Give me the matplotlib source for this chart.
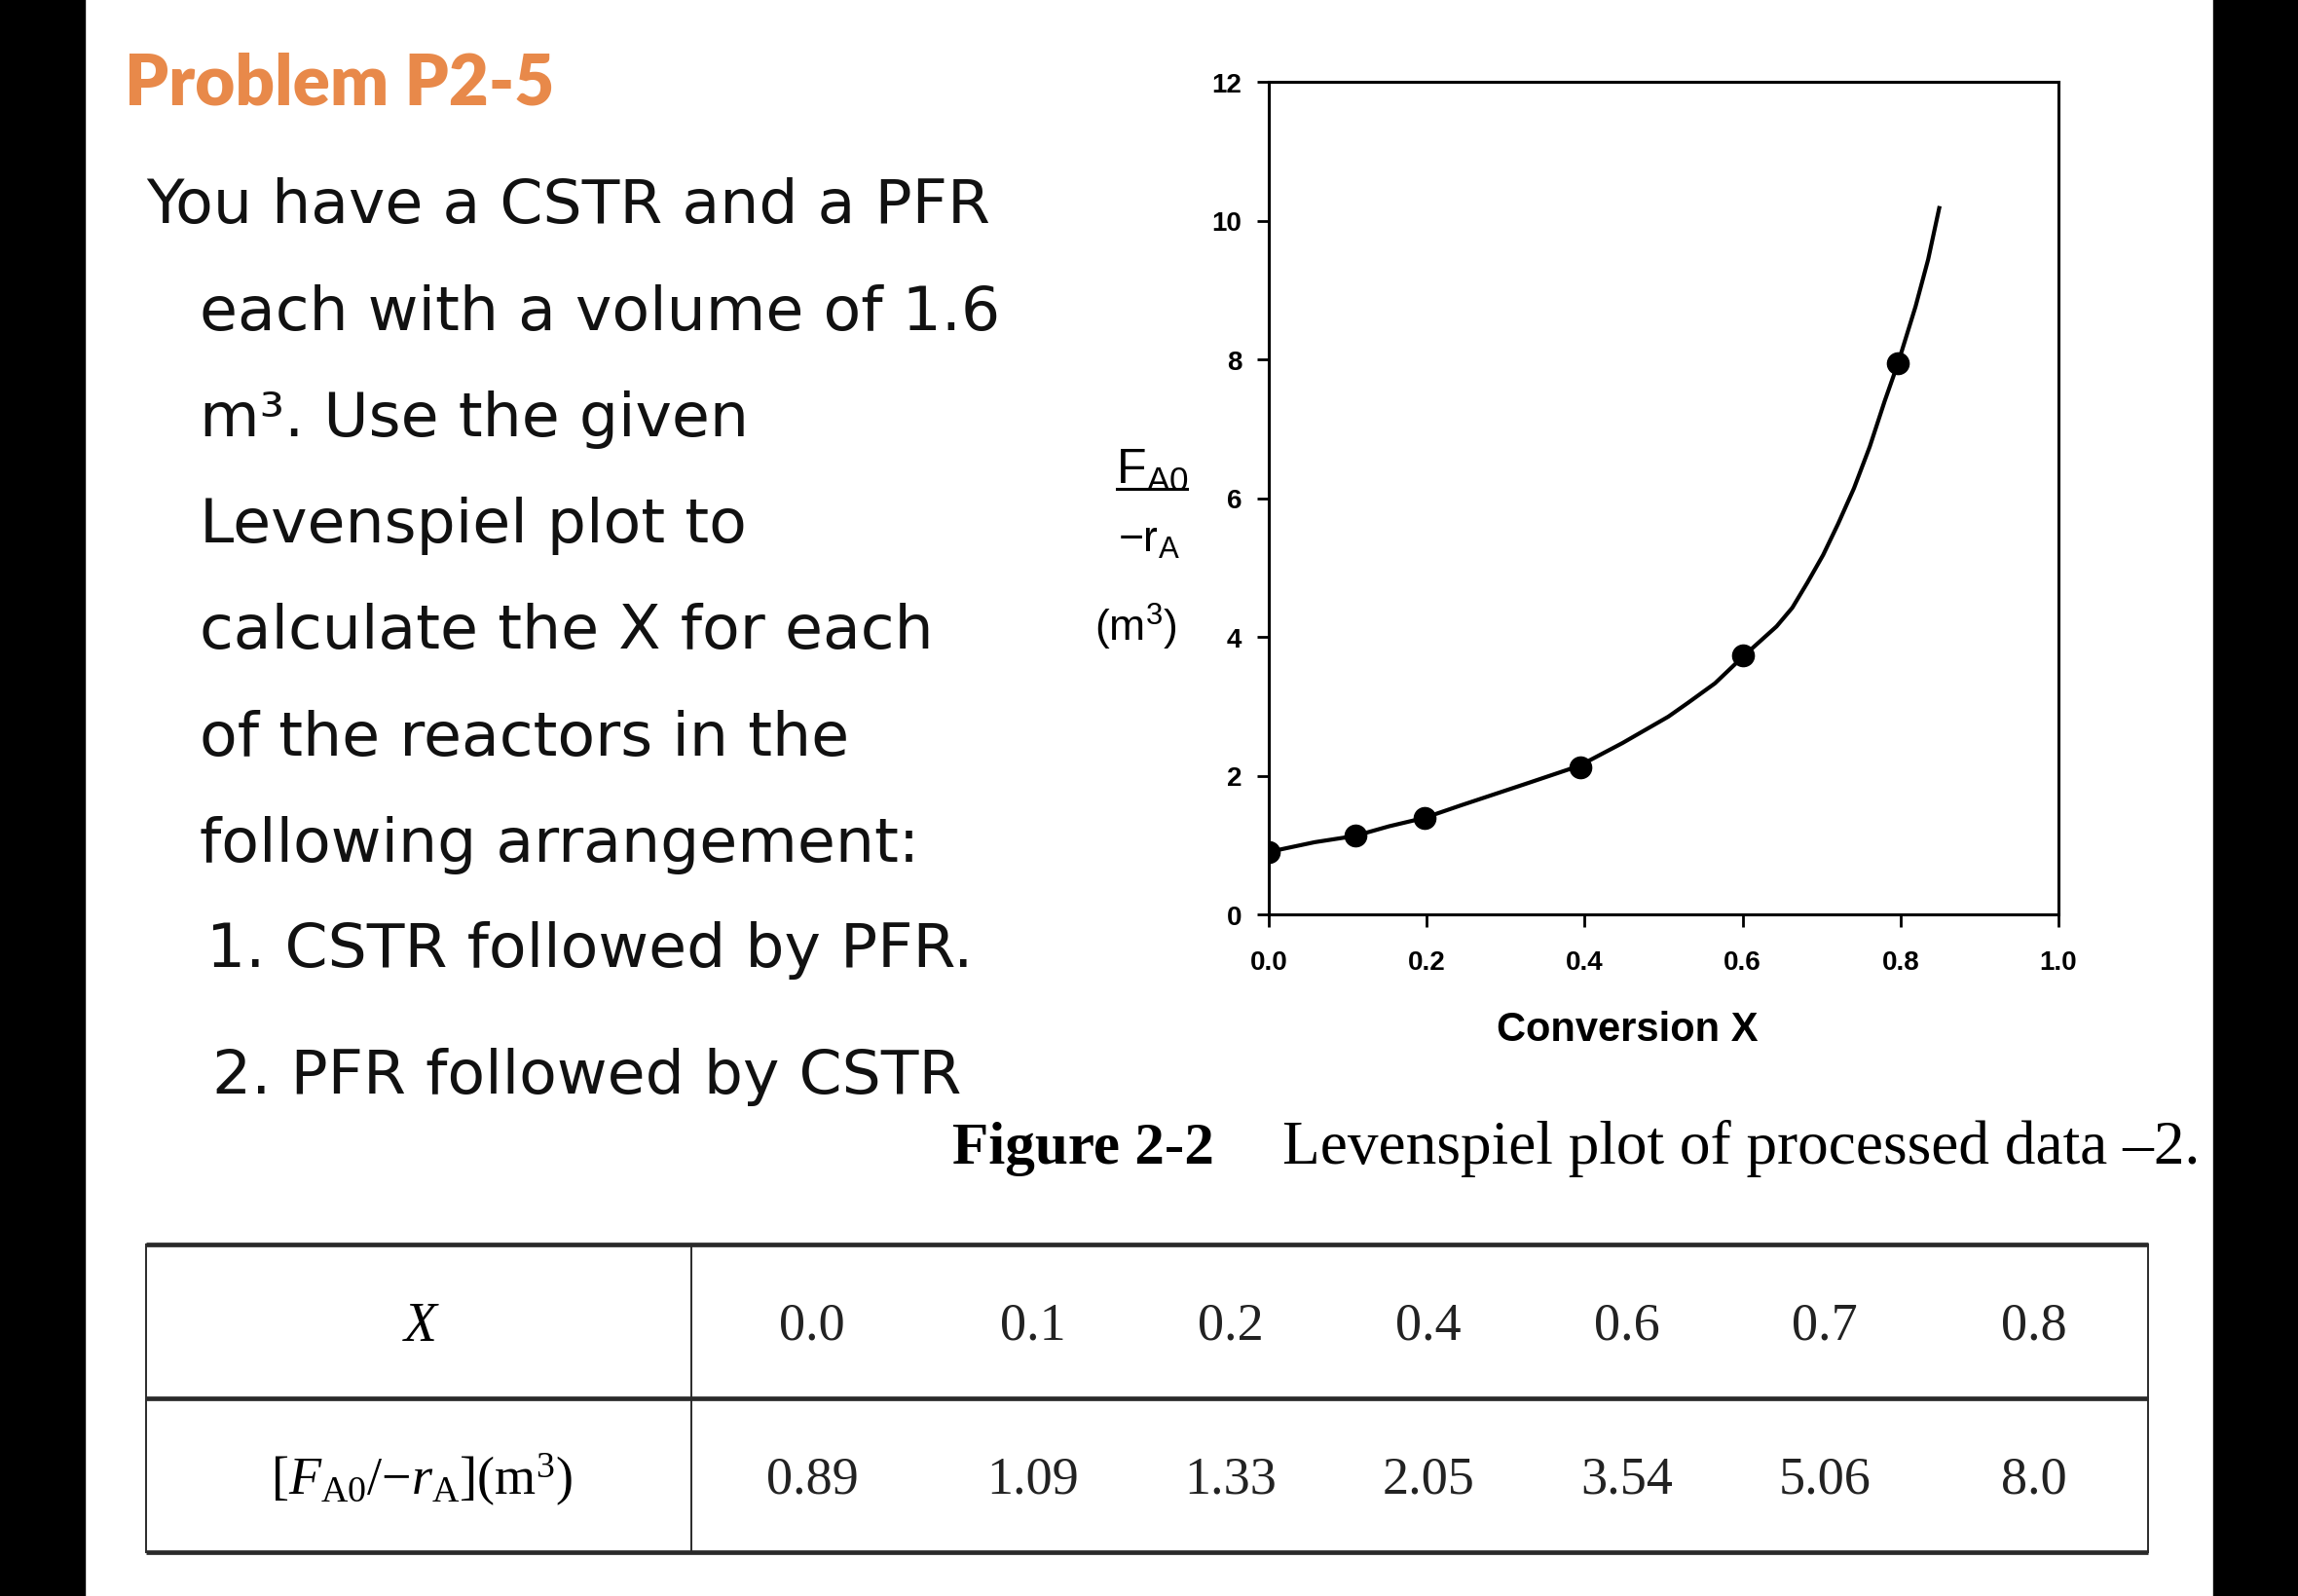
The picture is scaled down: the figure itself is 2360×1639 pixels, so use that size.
import numpy as np
import matplotlib.pyplot as plt
from matplotlib.patches import Rectangle

plt.rcParams['mathtext.fontset'] = 'custom'
plt.rcParams['mathtext.rm'] = 'Liberation Serif'
plt.rcParams['mathtext.it'] = 'Liberation Serif:italic'
plt.rcParams['mathtext.sf'] = 'Liberation Sans'

# curve
curve_x = [0.0, 0.058, 0.109, 0.1525, 0.197, 0.243, 0.325, 0.393, 0.448, 0.506, 0.531, 0.565,
           0.601, 0.643, 0.663, 0.682, 0.702, 0.721, 0.741, 0.761, 0.780, 0.797, 0.819, 0.835, 0.849]
curve_y = [0.90, 1.04, 1.13, 1.27, 1.39, 1.57, 1.88, 2.14, 2.47, 2.85, 3.05, 3.33,
           3.72, 4.15, 4.42, 4.78, 5.18, 5.63, 6.14, 6.74, 7.40, 7.95, 8.76, 9.44, 10.18]
# plotted data points
pts_x = [0.0, 0.11, 0.197, 0.395, 0.601, 0.797]
pts_y = [0.90, 1.13, 1.39, 2.12, 3.74, 7.95]

# table values
tab_x = ['0.0', '0.1', '0.2', '0.4', '0.6', '0.7', '0.8']
tab_f = ['0.89', '1.09', '1.33', '2.05', '3.54', '5.06', '8.0']
tab_cols = [834, 1061, 1264, 1467, 1671, 1874, 2089]

title = 'Problem P2-5'
body = ['You have a CSTR and a PFR',
        'each with a volume of 1.6',
        'm\u00b3. Use the given',
        'Levenspiel plot to',
        'calculate the X for each',
        'of the reactors in the',
        'following arrangement:',
        '1. CSTR followed by PFR.',
        '2. PFR followed by CSTR']
body_x = [150, 205, 205, 205, 205, 205, 205, 212, 218]
body_y = [229, 339, 448, 557, 666, 776, 885, 993, 1123]

W, H = 2360, 1640
fig = plt.figure(figsize=(W / 100, H / 100), dpi=100)

# overlay in pixel units for the text and the table
ov = fig.add_axes([0, 0, 1, 1])
ov.set_xlim(0, W)
ov.set_ylim(H, 0)
ov.axis('off')

fig.patches.append(Rectangle((0, 0), 87 / W, 1, transform=fig.transFigure, color='black'))
fig.patches.append(Rectangle((2273 / W, 0), 87 / W, 1, transform=fig.transFigure, color='black'))

ov.text(128, 108, title, fontsize=51, fontweight='heavy', color='#E8894A',
        family='Lato', va='baseline')
for s, x, y in zip(body, body_x, body_y):
    ov.text(x, y, s, fontsize=45.5, family='DejaVu Sans', va='baseline', color='#111111')

# the plot
ax = fig.add_axes([1303 / W, 1 - 940 / H, 811 / W, 855 / H])
ax.plot(curve_x, curve_y, color='black', lw=3)
ax.plot(pts_x, pts_y, 'o', color='black', ms=16)
ax.set_xlim(0, 1)
ax.set_ylim(0, 12)
ax.set_xticks(np.arange(0, 1.01, 0.2))
ax.set_xticklabels(['%.1f' % v for v in np.arange(0, 1.01, 0.2)])
ax.set_yticks(range(0, 13, 2))
for sp in ax.spines.values():
    sp.set_linewidth(2.2)
ax.tick_params(direction='out', length=9, width=2, labelsize=20)
ax.tick_params(axis='x', pad=17)
ax.tick_params(axis='y', pad=11)
for lab in ax.get_xticklabels() + ax.get_yticklabels():
    lab.set_family('Liberation Sans')
    lab.set_fontweight('bold')

ov.text(1671, 1058, 'Conversion X', fontsize=30, fontweight='bold', family='Liberation Sans',
        ha='center', va='center')
ov.text(1183, 497, r'$\mathsf{F_{A0}}$', fontsize=36, ha='center', va='baseline')
ov.plot([1147, 1219], [503, 503], color='black', lw=2.2)
ov.text(1180, 567, r'$\mathsf{-r_A}$', fontsize=32, ha='center', va='baseline')
ov.text(1166, 644, r'$\mathsf{(m^3)}$', fontsize=32, ha='center', va='center')

# caption
ov.text(978, 1195, 'Figure 2-2', fontsize=44, fontweight='bold', family='Liberation Serif', va='baseline')
ov.text(1317, 1195, 'Levenspiel plot of processed data \u20132.', fontsize=45.5,
        family='Liberation Serif', va='baseline')

# table
t_left, t_right, t_top, t_mid, t_bot, t_div = 150, 2206, 1279, 1437, 1595, 710
for y in (t_top, t_mid, t_bot):
    ov.plot([t_left, t_right], [y, y], color='#2a2a2a', lw=3.4, solid_capstyle='butt')
for x in (t_left, t_div, t_right):
    ov.plot([x, x], [t_top, t_bot], color='#2a2a2a', lw=1.4)
row1, row2 = 1362, 1520
ov.text(433, row1, r'$X$', fontsize=40, ha='center', va='center')
ov.text(433, row2, r'$[F_{\rm A0}/{-}r_{\rm A}]({\rm m}^3)$', fontsize=39, ha='center', va='center')
for x, a, b in zip(tab_cols, tab_x, tab_f):
    ov.text(x, row1, a, fontsize=39, family='Liberation Serif', ha='center', va='center', color='#222222')
    ov.text(x, row2, b, fontsize=39, family='Liberation Serif', ha='center', va='center', color='#222222')

fig.savefig('out.png', dpi=100, facecolor='white')
